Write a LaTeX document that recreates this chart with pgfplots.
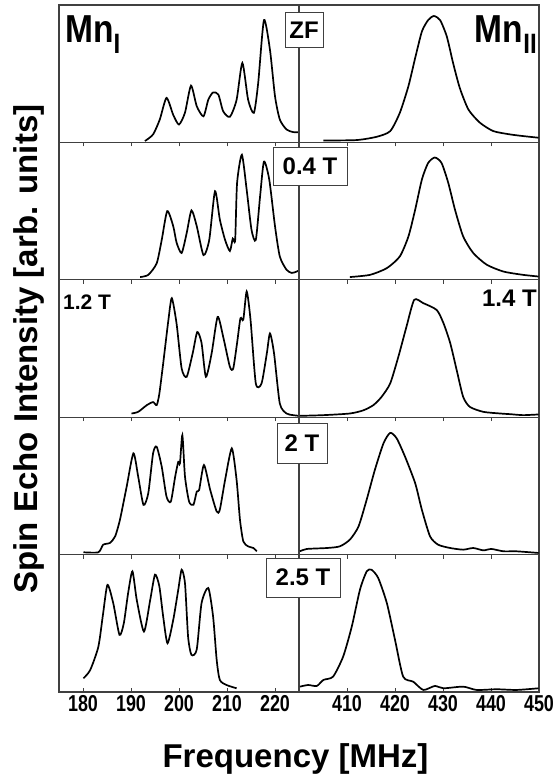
\documentclass[border=0pt]{standalone}
\usepackage{pgfplots}
\pgfplotsset{compat=1.18}
\usepackage{fontspec}
\setmainfont{Liberation Sans}
\usepackage{graphicx}

% narrow tick numbers, as in the figure
\newcommand{\tl}[1]{\scalebox{0.78}[1]{#1}}

\pgfplotsset{
  panel/.style={scale only axis, width=240pt, height=137.4pt, anchor=north west,
    ymin=0, ymax=1, ytick=\empty,
    axis line style={draw=black!75, line width=1.1pt},
    major tick length=4pt, xtick pos=bottom,
    tick style={draw=black!75, line width=0.9pt},
    tick align=outside, xticklabels={}},
  lcol/.style={xmin=175, xmax=225, xtick={180,190,...,220}},
  rcol/.style={xmin=400, xmax=450, xtick={410,420,...,450}},
  last/.style={tick align=inside,
    xticklabel style={font=\fontsize{23}{23}\selectfont\bfseries, inner sep=0pt, anchor=north, yshift=-3pt}},
  spec/.style={black, line width=1.7pt, smooth, tension=0.4},
}

\begin{document}
\begin{tikzpicture}
\useasboundingbox (0,0) rectangle (557pt,-776pt);

% ---- row 1: ZF
\begin{axis}[panel, lcol, at={(59pt,-5pt)}]
\addplot[spec] coordinates {(192.9,0.01) (194.6,0.058) (196.0,0.167) (197.4,0.324) (198.8,0.20) (200.0,0.13)
 (201.25,0.217) (202.5,0.413) (203.7,0.263) (205.1,0.19) (206.1,0.31) (207.1,0.364) (208.2,0.348)
 (209.2,0.227) (210.6,0.186) (212.0,0.31) (213.2,0.578) (214.4,0.31) (215.6,0.215) (216.5,0.433)
 (217.7,0.89) (218.95,0.674) (220.0,0.336) (221.0,0.167) (222.4,0.094) (223.8,0.075) (225.2,0.075)};
\end{axis}
\begin{axis}[panel, rcol, at={(299pt,-5pt)}]
\addplot[spec] coordinates {(405.1,0.014) (412.0,0.017) (416.2,0.041) (419.0,0.082) (421.0,0.215) (422.8,0.41)
 (424.2,0.614) (425.6,0.807) (426.9,0.89) (428.1,0.92) (429.4,0.89) (430.8,0.77) (432.1,0.578)
 (433.5,0.396) (435.3,0.239) (437.7,0.143) (440.5,0.082) (444.0,0.058) (446.7,0.046) (449.9,0.034)};
\end{axis}

% ---- row 2: 0.4 T
\begin{axis}[panel, lcol, at={(59pt,-142.4pt)}]
\addplot[spec] coordinates {(191.9,0.02) (193.6,0.036) (195.35,0.12) (196.4,0.29) (197.55,0.50) (198.8,0.39)
 (199.5,0.27) (200.55,0.195) (201.6,0.34) (202.6,0.505) (203.7,0.39) (205.1,0.18) (206.3,0.29)
 (207.5,0.645) (208.5,0.44) (209.6,0.29) (210.6,0.21) (211.2,0.30) (211.7,0.29) (212.1,0.705)
 (213.1,0.91) (214.1,0.655) (215.1,0.365) (216.0,0.29) (216.9,0.61) (217.7,0.86) (218.8,0.73)
 (220.0,0.39) (221.0,0.17) (222.4,0.073) (223.5,0.05) (224.5,0.06) (225.0,0.068)};
\end{axis}
\begin{axis}[panel, rcol, at={(299pt,-142.4pt)}]
\addplot[spec] coordinates {(410.6,0.02) (414.8,0.036) (418.3,0.085) (421.0,0.17) (422.8,0.316) (424.2,0.51)
 (425.6,0.73) (426.9,0.85) (428.3,0.89) (429.7,0.85) (431.1,0.705) (432.5,0.51) (434.2,0.316)
 (436.3,0.195) (439.1,0.11) (442.6,0.06) (446.7,0.036) (449.9,0.024)};
\end{axis}

% ---- row 3: 1.2 T / 1.4 T
\begin{axis}[panel, lcol, at={(59pt,-279.8pt)}]
\addplot[spec] coordinates {(190.1,0.027) (191.5,0.039) (193.3,0.088) (194.6,0.11) (195.35,0.088) (195.9,0.17)
 (196.7,0.39) (197.8,0.71) (198.5,0.866) (199.5,0.68) (200.55,0.355) (201.6,0.294) (202.85,0.465)
 (203.8,0.62) (204.7,0.54) (205.6,0.294) (206.8,0.465) (208.05,0.73) (209.2,0.586) (210.6,0.367)
 (211.3,0.355) (212.1,0.54) (212.8,0.72) (213.4,0.71) (214.1,0.915) (214.9,0.71) (216.0,0.246)
 (217.2,0.246) (218.3,0.465) (218.95,0.61) (219.8,0.465) (221.0,0.10) (222.4,0.027) (223.8,0.015) (225.0,0.01)};
\end{axis}
\begin{axis}[panel, rcol, at={(299pt,-279.8pt)}]
\addplot[spec] coordinates {(400.2,0.01) (405.1,0.015) (410.6,0.027) (413.4,0.05) (415.5,0.088) (417.2,0.148)
 (419.0,0.246) (420.7,0.44) (422.4,0.66) (424.0,0.854) (425.9,0.83) (428.7,0.78) (430.1,0.684)
 (431.5,0.54) (432.85,0.343) (434.2,0.148) (435.6,0.075) (438.4,0.039) (441.9,0.027) (444.0,0.022)
 (446.7,0.015) (449.9,0.02)};
\end{axis}

% ---- row 4: 2 T
\begin{axis}[panel, lcol, at={(59pt,-417.2pt)}]
\addplot[spec] coordinates {(180.1,0.017) (183.2,0.017) (184.2,0.072) (185.6,0.085) (186.7,0.133) (187.7,0.254)
 (189.1,0.495) (190.5,0.737) (191.5,0.567) (192.6,0.362) (193.6,0.447) (194.6,0.737) (195.35,0.785)
 (196.4,0.64) (197.4,0.422) (198.3,0.386) (199.2,0.567) (199.85,0.676) (200.2,0.664) (200.7,0.87)
 (201.25,0.567) (202.1,0.386) (203.0,0.362) (203.7,0.459) (204.2,0.471) (205.2,0.652) (206.5,0.471)
 (207.85,0.314) (208.5,0.326) (209.6,0.543) (211.0,0.773) (212.0,0.543) (212.7,0.254) (213.4,0.096)
 (214.4,0.06) (215.5,0.048) (216.2,0.024)};
\end{axis}
\begin{axis}[panel, rcol, at={(299pt,-417.2pt)}]
\addplot[spec] coordinates {(400.2,0.024) (401.6,0.041) (405.8,0.048) (408.5,0.06) (410.6,0.109) (412.4,0.205)
 (414.1,0.40) (415.8,0.616) (417.6,0.81) (419.0,0.886) (420.35,0.846) (422.1,0.712) (424.2,0.52)
 (425.6,0.326) (427.3,0.133) (429.0,0.072) (431.5,0.048) (434.2,0.036) (436.3,0.048) (438.4,0.031)
 (440.1,0.041) (442.6,0.024) (445.3,0.024) (449.9,0.012)};
\end{axis}

% ---- row 5: 2.5 T
\begin{axis}[panel, lcol, last, at={(59pt,-554.6pt)},
  xticklabels={\tl{180},\tl{190},\tl{200},\tl{210},\tl{220}}]
\addplot[spec] coordinates {(180.1,0.10) (181.5,0.16) (183.2,0.33) (184.2,0.574) (185.1,0.78) (186.3,0.647)
 (187.6,0.416) (188.5,0.50) (189.4,0.72) (190.3,0.878) (191.2,0.67) (192.7,0.44) (194.0,0.67)
 (195.0,0.854) (195.9,0.77) (196.7,0.55) (197.6,0.355) (198.8,0.525) (199.85,0.745) (200.55,0.89)
 (201.25,0.79) (201.9,0.40) (202.6,0.27) (203.7,0.31) (204.7,0.647) (206.1,0.757) (207.1,0.55)
 (207.85,0.234) (208.5,0.088) (209.9,0.051) (212.0,0.027)};
\end{axis}
\begin{axis}[panel, rcol, last, at={(299pt,-554.6pt)},
  xticklabels={\tl{410},\tl{420},\tl{430},\tl{440},\tl{450}}]
\addplot[spec] coordinates {(400.2,0.039) (401.9,0.051) (403.7,0.044) (405.1,0.088) (407.1,0.112) (409.2,0.258)
 (411.0,0.477) (412.7,0.745) (414.1,0.878) (415.1,0.89) (416.5,0.83) (418.3,0.647) (420.0,0.38)
 (421.7,0.112) (423.8,0.075) (425.9,0.015) (428.3,0.044) (430.1,0.027) (434.2,0.039) (437.0,0.015)
 (441.2,0.02) (445.3,0.015) (449.9,0.027)};
\end{axis}

% ---- labels
\node[anchor=base west, inner sep=0pt] at (65pt,-43pt)
  {\scalebox{0.86}[1]{\fontsize{39}{39}\selectfont\bfseries Mn\raisebox{-10pt}{\fontsize{28}{28}\selectfont I}}};
\node[anchor=base east, inner sep=0pt] at (537pt,-43pt)
  {\scalebox{0.86}[1]{\fontsize{39}{39}\selectfont\bfseries Mn\raisebox{-10pt}{\fontsize{28}{28}\selectfont II}}};

\tikzset{tbox/.style={draw=black!75, line width=1pt, fill=white, inner sep=0pt,
  font=\fontsize{24}{24}\selectfont\bfseries}}
\node[tbox, minimum width=38pt, minimum height=35pt] at (304pt,-30.5pt) {ZF};
\node[tbox, minimum width=74pt, minimum height=38pt] at (310pt,-166pt) {0.4 T};
\node[tbox, minimum width=50pt, minimum height=40pt] at (302pt,-443pt) {2 T};
\node[tbox, minimum width=74pt, minimum height=39pt] at (303pt,-577.5pt) {2.5 T};
\node[anchor=north west, inner sep=0pt, font=\fontsize{21}{21}\selectfont\bfseries] at (63pt,-295pt) {1.2 T};
\node[anchor=north east, inner sep=0pt, font=\fontsize{24}{24}\selectfont\bfseries] at (537pt,-290pt) {1.4 T};

\node[anchor=base, rotate=90, inner sep=0pt, font=\fontsize{33}{33}\selectfont\bfseries] at (37pt,-349pt)
  {Spin Echo Intensity [arb. units]};
\node[anchor=base, inner sep=0pt, font=\fontsize{33}{33}\selectfont\bfseries] at (295.5pt,-767pt)
  {Frequency [MHz]};
\end{tikzpicture}
\end{document}
